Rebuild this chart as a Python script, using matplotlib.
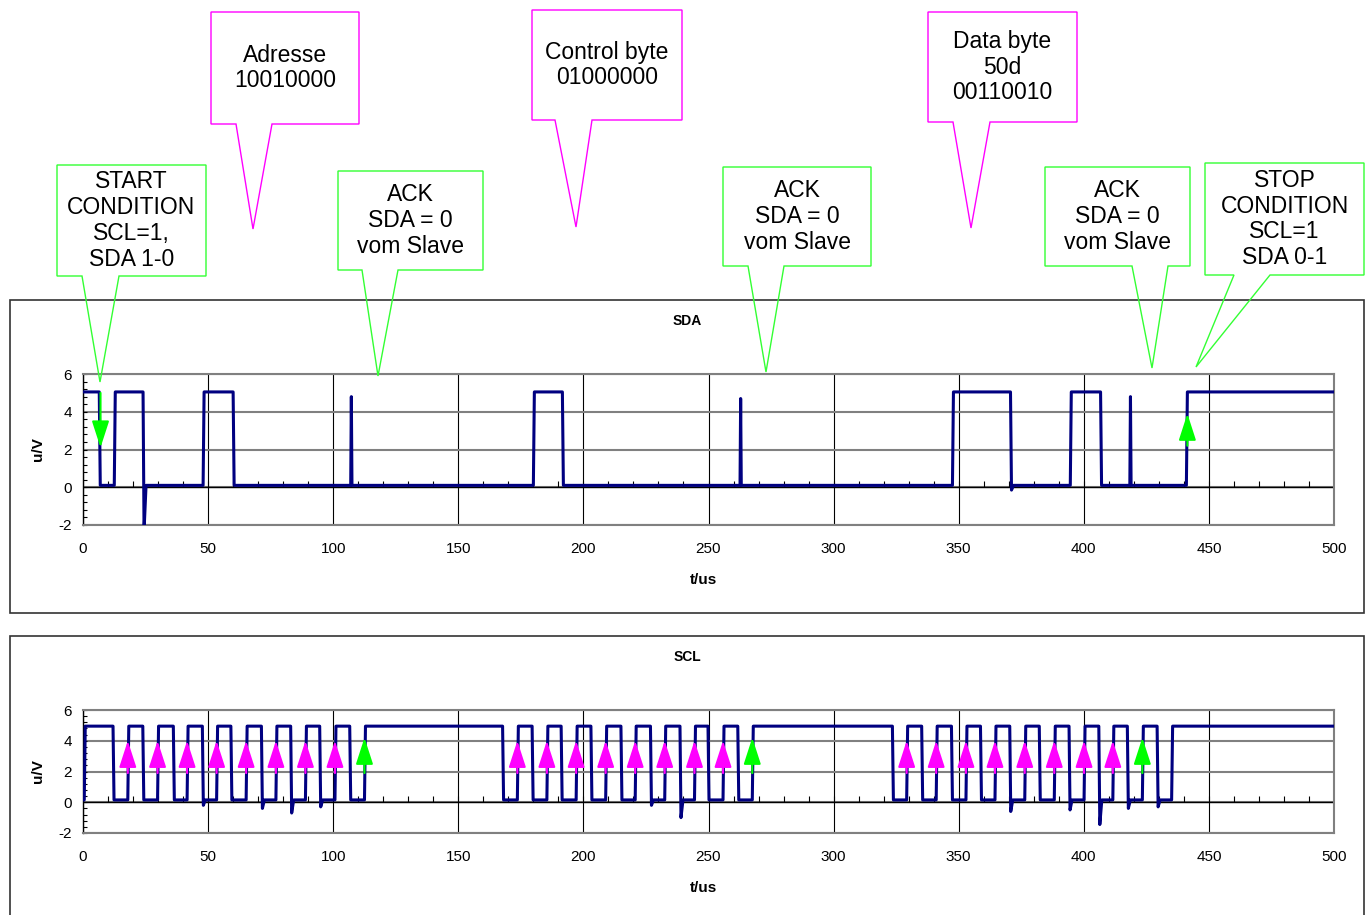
import numpy as np
import matplotlib
matplotlib.use("Agg")
import matplotlib.pyplot as plt
from matplotlib.patches import Rectangle, Polygon
from matplotlib.ticker import MultipleLocator

plt.rcParams['font.family'] = ['Liberation Sans', 'DejaVu Sans']
plt.rcParams['axes.unicode_minus'] = False

W, H = 1367, 915

# SDA line: edge times (us), starts high
sda_edges = [6.5, 12.5, 24.0, 48.0, 60.0, 180.0, 191.6, 347.5, 370.7, 394.6, 406.7, 441.0]
sda_dips = {24.0: -2.3, 370.7: -0.15}
sda_spike_t = [107.0, 262.6, 418.4]
sda_spike_v = [4.8, 4.7, 4.8]
sda_hi, sda_lo = 5.05, 0.1

# SCL line: edge times (us), starts low
scl_edges = [0.5, 12.0, 17.9, 23.9, 29.8, 36.1, 41.6, 47.7, 53.4, 59.1, 65.2, 71.3,
             77.1, 83.0, 88.9, 94.6, 100.7, 106.6, 112.5, 167.7, 173.6, 179.5, 185.4,
             191.1, 197.1, 203.0, 208.9, 215.0, 220.7, 226.8, 232.5, 238.6, 244.4,
             249.8, 255.8, 261.7, 267.5, 323.5, 329.2, 335.2, 341.0, 347.1, 352.9,
             358.7, 364.5, 370.4, 376.4, 382.2, 388.2, 394.1, 400.1, 406.0, 411.6,
             417.4, 423.4, 429.3, 435.1]
scl_dips = {47.7: -0.2, 71.3: -0.4, 83.0: -0.7, 94.6: -0.3, 226.8: -0.2, 238.6: -1.0,
            370.4: -0.6, 394.1: -0.5, 406.0: -1.45, 417.4: -0.4, 429.3: -0.3}
scl_hi, scl_lo = 4.95, 0.15

# clock edges marked with arrows
bit_clocks = [17.9, 29.8, 41.6, 53.4, 65.2, 77.1, 88.9, 100.7,
              173.6, 185.4, 197.1, 208.9, 220.7, 232.5, 244.4, 255.8,
              329.2, 341.0, 352.9, 364.5, 376.4, 388.2, 400.1, 411.6]
ack_clocks = [112.5, 267.5, 423.4]
sda_start_arrow = 7.0
sda_stop_arrow = 441.4

# callouts: text, box (px), tail base x (px), tip (px), colour
callouts = [
    ("Adresse\n10010000", (211, 12, 359, 124), (236, 272), (253, 229), '#ff00ff'),
    ("Control byte\n01000000", (532, 10, 682, 120), (555, 592), (576, 227), '#ff00ff'),
    ("Data byte\n50d\n00110010", (928, 12, 1077, 122), (953, 990), (971, 228), '#ff00ff'),
    ("START\nCONDITION\nSCL=1,\nSDA 1-0", (57, 165, 206, 276), (82, 119), (100, 382), '#33ff33'),
    ("ACK\nSDA = 0\nvom Slave", (338, 171, 483, 270), (362, 398), (378, 376), '#33ff33'),
    ("ACK\nSDA = 0\nvom Slave", (723, 167, 871, 266), (748, 784), (766, 372), '#33ff33'),
    ("ACK\nSDA = 0\nvom Slave", (1045, 167, 1190, 266), (1132, 1168), (1152, 368), '#33ff33'),
    ("STOP\nCONDITION\nSCL=1\nSDA 0-1", (1205, 163, 1364, 275), (1234, 1270), (1196, 367), '#33ff33'),
]


def fx(x):
    return x / W


def fy(y):
    return 1 - y / H


def waveform(edges, high_first, hi, lo, dips, t_end=500.0, rise=0.4):
    level = high_first
    t, v = [0.0], [hi if level else lo]
    for e in edges:
        t.append(e)
        v.append(hi if level else lo)
        level = not level
        new = hi if level else lo
        if not level and e in dips:
            t += [e + rise, e + 1.2]
            v += [dips[e], new]
        else:
            t.append(e + rise)
            v.append(new)
    t.append(t_end)
    v.append(hi if level else lo)
    return np.array(t), np.array(v)


def add_spikes(t, v, times, peaks, lo):
    for s, p in zip(times, peaks):
        i = np.searchsorted(t, s)
        t = np.insert(t, i, [s, s + 0.25, s + 0.5])
        v = np.insert(v, i, [lo, p, lo])
    return t, v


def arrow(ax, x, y0, y1, color):
    ax.annotate('', xy=(x, y1), xytext=(x, y0),
                arrowprops=dict(arrowstyle='-|>,head_length=1.64,head_width=0.53',
                                mutation_scale=10, color=color, lw=1.5,
                                shrinkA=0, shrinkB=0), zorder=5)


def style_axes(ax):
    ax.set_xlim(0, 500)
    ax.set_ylim(-2, 6)
    ax.set_xticks(range(0, 501, 50))
    ax.set_yticks(range(-2, 7, 2))
    ax.yaxis.set_minor_locator(MultipleLocator(0.4))
    ax.grid(axis='y', color='#808080', lw=1.5)
    ax.grid(axis='x', color='black', lw=0.8)
    ax.set_axisbelow(True)
    ax.axhline(0, color='black', lw=1, zorder=1)
    minor = np.arange(10, 500, 10)
    ax.plot(minor, np.zeros_like(minor), ls='none', marker=2, ms=4, mew=0.8,
            color='black', zorder=1)
    for s in ['top', 'right', 'bottom']:
        ax.spines[s].set_color('#808080')
        ax.spines[s].set_linewidth(1.5)
    ax.spines['left'].set_color('black')
    ax.spines['left'].set_linewidth(1)
    ax.tick_params(axis='x', length=0, pad=12, labelsize=11)
    ax.tick_params(axis='y', which='both', direction='in', length=3, width=0.8,
                   pad=8, labelsize=11)
    ax.set_ylabel('u/V', fontsize=11, fontweight='bold')
    ax.yaxis.set_label_coords(-0.0304, 0.5)


fig = plt.figure(figsize=(W / 100, H / 100), dpi=100)

# chart frames
fig.add_artist(Rectangle((fx(10), fy(613)), fx(1354), (613 - 300) / H, fill=False,
                         ec='#333333', lw=1.2, transform=fig.transFigure))
fig.add_artist(Rectangle((fx(10), fy(920)), fx(1354), (920 - 636) / H, fill=False,
                         ec='#333333', lw=1.2, transform=fig.transFigure))

ax1 = fig.add_axes([fx(83), fy(525), fx(1334 - 83), (525 - 374) / H])
ax2 = fig.add_axes([fx(83), fy(833), fx(1334 - 83), (833 - 710) / H])
style_axes(ax1)
style_axes(ax2)

t, v = waveform(sda_edges, True, sda_hi, sda_lo, sda_dips)
t, v = add_spikes(t, v, sda_spike_t, sda_spike_v, sda_lo)
ax1.plot(t, v, color='#000080', lw=2.2, zorder=3)
arrow(ax1, sda_start_arrow, 5.0, 2.1, '#00ff00')
arrow(ax1, sda_stop_arrow, 2.2, 3.9, '#00ff00')
ax1.set_xlabel('t/us', fontsize=11, fontweight='bold')
ax1.xaxis.set_label_coords(0.496, -0.318)

t, v = waveform(scl_edges, False, scl_hi, scl_lo, scl_dips)
ax2.plot(t, v, color='#000080', lw=2.2, zorder=3)
for x in bit_clocks:
    arrow(ax2, x, 1.9, 4.0, '#ff00ff')
for x in ack_clocks:
    arrow(ax2, x, 1.9, 4.2, '#00ff00')
ax2.set_xlabel('t/us', fontsize=11, fontweight='bold')
ax2.xaxis.set_label_coords(0.496, -0.39)

fig.text(fx(687), fy(321), 'SDA', fontsize=10, fontweight='bold', ha='center', va='center')
fig.text(fx(687), fy(657), 'SCL', fontsize=10, fontweight='bold', ha='center', va='center')

for text, (x0, y0, x1, y1), (ta, tb), tip, color in callouts:
    pts = [(x0, y0), (x1, y0), (x1, y1), (tb, y1), tip, (ta, y1), (x0, y1)]
    fig.add_artist(Polygon([(fx(x), fy(y)) for x, y in pts], closed=True, fill=False,
                           ec=color, lw=1, transform=fig.transFigure))
    fig.text(fx((x0 + x1) / 2), fy((y0 + y1) / 2), text, ha='center', va='center',
             fontsize=16.5, linespacing=1.15)

fig.savefig('out.png', dpi=100)
